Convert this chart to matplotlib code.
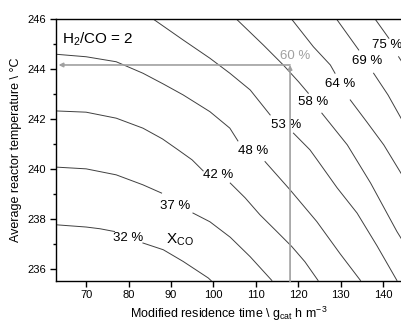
import numpy as np
import matplotlib
matplotlib.use("Agg")
import matplotlib.pyplot as plt
from matplotlib.ticker import MultipleLocator

plt.rcParams['font.family'] = ['Liberation Sans', 'DejaVu Sans']
plt.rcParams['mathtext.default'] = 'regular'

nan = np.nan

# CO conversion iso-lines (tau in g_cat h m^-3, T in degC); nan = gap for label
levels = [32, 37, 42, 48, 53, 58, 64, 69, 75]

tau_32 = [62.9, 70.0, 73.3, 76.7, nan, 83.4, 88.2, 92.9, 98.8, 99.5]
T_32 = [237.77, 237.68, 237.61, 237.50, nan, 237.04, 236.77, 236.30, 235.64, 235.53]

tau_37 = [62.9, 70.0, 77.1, 83.4, 87.8, nan, 95.2, 99.2, 104.0, 108.7, 113.8]
T_37 = [240.08, 240.01, 239.77, 239.37, 239.04, nan, 238.24, 237.89, 237.27, 236.49, 235.54]

tau_42 = [62.9, 70.0, 77.1, 83.4, 88.0, 91.7, 95.0, 97.6, nan, 104.0, 107.5, 111.0, 114.8, 118.5, 121.6, 124.7]
T_42 = [242.33, 242.28, 242.04, 241.64, 241.21, 240.77, 240.37, 239.93, nan, 239.44, 238.85, 238.17, 237.53, 236.90, 236.29, 235.54]

tau_48 = [62.9, 70.0, 77.1, 83.4, 88.2, 92.9, 99.2, 103.9, 105.8, nan, 112.2, 118.1, 124.4, 129.9, 134.7]
T_48 = [244.60, 244.50, 244.30, 243.84, 243.41, 242.97, 242.30, 241.64, 241.13, nan, 240.30, 239.17, 237.90, 236.61, 235.54]

tau_53 = [85.9, 92.9, 99.2, 103.9, 108.7, 113.4, nan, 118.9, 122.8, 124.5, 129.2, 133.9, 138.6, 143.3]
T_53 = [246.0, 245.17, 244.44, 243.84, 243.17, 242.17, nan, 241.44, 240.77, 240.37, 239.25, 238.24, 236.93, 235.54]

tau_58 = [105.5, 111.8, 116.5, 120.1, 122.4, nan, 125.6, 131.6, 137.1, 143.3, 144.5]
T_58 = [246.0, 244.97, 244.17, 243.50, 243.04, nan, 242.24, 240.97, 239.44, 237.50, 237.17]

tau_64 = [118.5, 123.6, 127.6, 128.7, nan, 132.3, 136.2, 140.2, 144.5]
T_64 = [246.0, 244.90, 244.17, 243.84, nan, 242.77, 241.89, 240.97, 239.77]

tau_69 = [129.1, 134.3, nan, 137.8, 141.2, 144.5]
T_69 = [246.0, 244.77, nan, 243.84, 242.97, 241.97]

tau_75 = [138.2, 141.4, nan, 143.7, 144.5]
T_75 = [246.0, 245.24, nan, 244.50, 244.29]

# where each level's label sits on its line
label_tau = [80.0, 91.1, 101.25, 109.3, 117.2, 123.5, 129.9, 136.3, 141.0]
label_T = [237.23, 238.54, 239.75, 240.73, 241.77, 242.67, 243.41, 244.33, 244.97]

# chosen operating point
op_tau = 118.1
op_T = 244.17
op_X = 60

lines_tau = [tau_32, tau_37, tau_42, tau_48, tau_53, tau_58, tau_64, tau_69, tau_75]
lines_T = [T_32, T_37, T_42, T_48, T_53, T_58, T_64, T_69, T_75]

fig = plt.figure(figsize=(4.02, 3.23), dpi=100)
ax = fig.add_axes([56 / 402, 42.3 / 323, 346 / 402, 261.4 / 323])

for tt, TT in zip(lines_tau, lines_T):
    ax.plot(tt, TT, color='#404040', lw=0.7)

for lvl, lx, ly in zip(levels, label_tau, label_T):
    ax.text(lx, ly, f"{lvl} %", fontsize=9.5, ha='center', va='center', color='black')

grey = '#a0a0a0'
ax.annotate('', xy=(op_tau, op_T), xytext=(op_tau, 235.5),
            arrowprops=dict(arrowstyle='-|>', color=grey, lw=1.2,
                            mutation_scale=6, shrinkA=0, shrinkB=0))
ax.annotate('', xy=(63.5, op_T), xytext=(op_tau, op_T),
            arrowprops=dict(arrowstyle='-|>', color=grey, lw=1.2,
                            mutation_scale=6, shrinkA=0, shrinkB=0))
ax.text(op_tau + 1.2, op_T + 0.36, f"{op_X} %", fontsize=9.5, ha='center', va='center', color=grey)

ax.text(0.017, 0.955, '$H_2$/CO = 2', transform=ax.transAxes, fontsize=11, ha='left', va='top')
ax.text(92.1, 237.15, '$X_{CO}$', fontsize=11, ha='center', va='center')

ax.set_xlim(62.9, 144.5)
ax.set_ylim(235.53, 246)
ax.xaxis.set_major_locator(MultipleLocator(10))
ax.yaxis.set_major_locator(MultipleLocator(2))
ax.yaxis.set_minor_locator(MultipleLocator(1))
ax.tick_params(which='major', direction='out', length=4, width=1, labelsize=8, pad=3)
ax.tick_params(which='minor', direction='out', length=2.5, width=1)
ax.spines['right'].set_visible(False)
for s in ['left', 'bottom', 'top']:
    ax.spines[s].set_linewidth(1.0)

ax.set_xlabel('Modified residence time \\ g$_{cat}$ h m$^{-3}$', fontsize=9, labelpad=3)
ax.set_ylabel('Average reactor temperature \\ \u00b0C', fontsize=9, labelpad=4)

fig.savefig('out.png', dpi=100)
